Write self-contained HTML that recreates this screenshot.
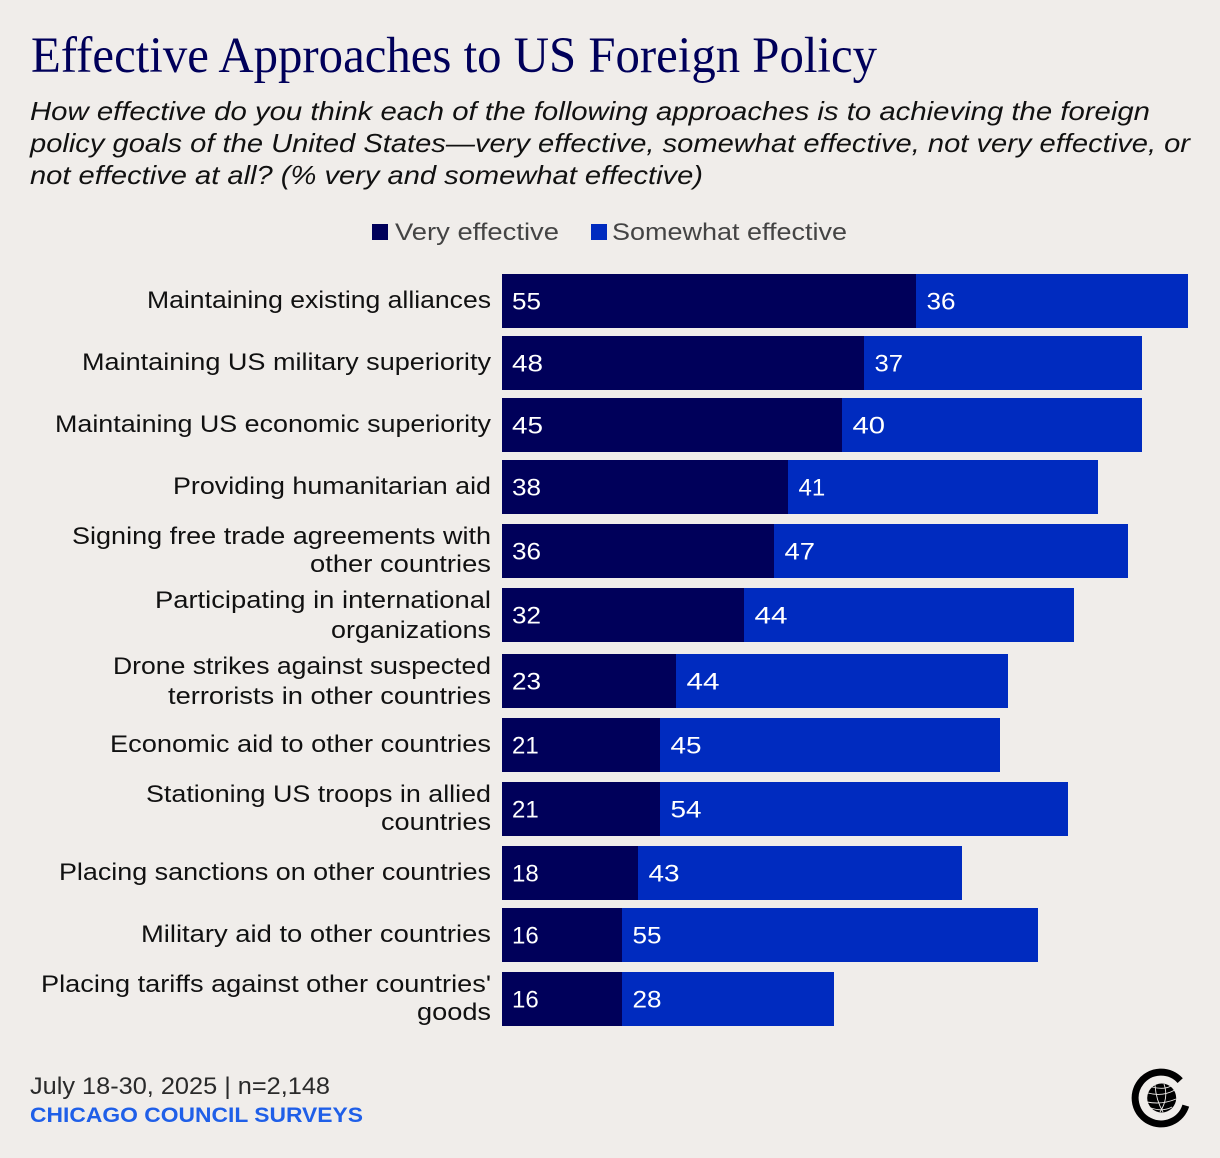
<!DOCTYPE html>
<html lang="en">
<head>
<meta charset="utf-8">
<title>Effective Approaches to US Foreign Policy</title>
<style>
html,body{margin:0;padding:0;background:#f0edea;}
body{width:1220px;height:1158px;overflow:hidden;}
svg{display:block;}
text{font-family:"Liberation Sans",sans-serif;}
</style>
</head>
<body>
<svg id="chart" xmlns="http://www.w3.org/2000/svg" width="1220" height="1158" viewBox="0 0 1220 1158">
  <rect width="1220" height="1158" fill="#f0edea"/>
  <text x="31" y="72" style="font-family:'Liberation Serif',serif" font-size="51" fill="#00005a" textLength="846" lengthAdjust="spacingAndGlyphs">Effective Approaches to US Foreign Policy</text>
  <g font-size="26" font-style="italic" fill="#111">
    <text x="30" y="120" textLength="1120" lengthAdjust="spacingAndGlyphs">How effective do you think each of the following approaches is to achieving the foreign</text>
    <text x="30" y="152" textLength="1160" lengthAdjust="spacingAndGlyphs">policy goals of the United States—very effective, somewhat effective, not very effective, or</text>
    <text x="30" y="184" textLength="673" lengthAdjust="spacingAndGlyphs">not effective at all? (% very and somewhat effective)</text>
  </g>
  <g font-size="24" fill="#444">
    <rect x="372" y="224" width="16" height="16" fill="#00005a"/>
    <text x="395" y="240" textLength="164" lengthAdjust="spacingAndGlyphs">Very effective</text>
    <rect x="591" y="224" width="16" height="16" fill="#002bbf"/>
    <text x="612" y="240" textLength="235" lengthAdjust="spacingAndGlyphs">Somewhat effective</text>
  </g>
  <g id="labels" font-size="24" fill="#111" text-anchor="end"></g>
  <g id="bars"></g>
  <g id="values" font-size="24" fill="#fff"></g>
  <g>
    <text x="30" y="1094" font-size="24" fill="#2a2a2a" textLength="300" lengthAdjust="spacingAndGlyphs">July 18-30, 2025 | n=2,148</text>
    <text x="30" y="1122" font-size="21" font-weight="bold" fill="#1f5fe8" textLength="333" lengthAdjust="spacingAndGlyphs">CHICAGO COUNCIL SURVEYS</text>
  </g>
  <g transform="translate(1161 1098)">
    <path d="M 19.2 -17.4 A 25.9 25.9 0 1 0 24.8 7.6" fill="none" stroke="#000" stroke-width="7"/>
    <circle cx="0.7" cy="0" r="14.5" fill="#000"/>
    <g fill="none" stroke="#f0edea" stroke-width="0.9">
      <path d="M -13 -5 Q 1 -1 14 -8"/>
      <path d="M -14 4 Q 1 7 15 1"/>
      <path d="M -9 -11 Q 3 -8 10 -12"/>
      <path d="M -6 -13 Q -5 2 2 14"/>
      <path d="M 3 -14 Q 8 0 -1 14"/>
      <path d="M -10 10 Q 2 14 11 9"/>
    </g>
  </g>
</svg>
<script>
const categories = [
  ["Maintaining existing alliances"],
  ["Maintaining US military superiority"],
  ["Maintaining US economic superiority"],
  ["Providing humanitarian aid"],
  ["Signing free trade agreements with", "other countries"],
  ["Participating in international", "organizations"],
  ["Drone strikes against suspected", "terrorists in other countries"],
  ["Economic aid to other countries"],
  ["Stationing US troops in allied", "countries"],
  ["Placing sanctions on other countries"],
  ["Military aid to other countries"],
  ["Placing tariffs against other countries'", "goods"]
];
const veryEffective = [55, 48, 45, 38, 36, 32, 23, 21, 21, 18, 16, 16];
const somewhatEffective = [36, 37, 40, 41, 47, 44, 44, 45, 54, 43, 55, 28];

const SVG_NS = "http://www.w3.org/2000/svg";
const DARK = "#00005a";
const BLUE = "#002bbf";
const X0 = 502;
const X_UNIT = 7.538;
const BAR_H = 54;
const ROW_ONE_LINE = 62;
const ROW_TWO_LINES = 65.5;
const FIRST_TOP = 274.25;
/* Typesetting only: rendered measure of each label line in the original wide face. */
const labelMeasures = [[344], [409], [436], [318], [419, 181], [336, 160], [378, 323], [381], [345, 110], [432], [350], [450, 74]];
/* Typesetting only: advance of each digit in the original face. */
const digitAdvance = { 0: 16, 2: 14.5, 3: 14.5, 4: 16.5, 5: 14.5, 6: 14.5, 7: 14, 8: 14.5, 9: 14.5 };

function snap(v) { return Math.round(v / 2) * 2; }
function snapDown(v) { return Math.floor(v / 2) * 2; }
function xScale(v) { return X0 + snap(v * X_UNIT); }
function rowHeight(i) { return categories[i].length > 1 ? ROW_TWO_LINES : ROW_ONE_LINE; }
function rowTop(i) {
  let t = FIRST_TOP;
  for (let k = 0; k < i; k++) t += (rowHeight(k) + rowHeight(k + 1)) / 2;
  return t;
}
function slug(s) { return s.toLowerCase().replace(/[^a-z0-9]+/g, "-").replace(/^-|-$/g, ""); }
function make(tag, attrs) {
  const el = document.createElementNS(SVG_NS, tag);
  for (const k in attrs) el.setAttribute(k, attrs[k]);
  return el;
}
/* Values holding a "1" keep natural width so the digits never collide. */
function fitValue(el, v) {
  const s = String(v);
  if (s.indexOf("1") >= 0) return;
  const w = s.split("").reduce(function (sum, d) { return sum + digitAdvance[d]; }, 0);
  el.setAttribute("textLength", w);
  el.setAttribute("lengthAdjust", "spacingAndGlyphs");
}

const barsG = document.getElementById("bars");
const valuesG = document.getElementById("values");
const labelsG = document.getElementById("labels");

categories.forEach(function (lines, i) {
  const t = rowTop(i);
  const y = snapDown(t);
  const key = slug(lines.join(" "));
  const xa = xScale(veryEffective[i]);
  const xb = xScale(veryEffective[i] + somewhatEffective[i]);

  const barA = make("rect", { x: X0, y: y, width: xa - X0, height: BAR_H, fill: DARK });
  
  
  barsG.appendChild(barA);

  const barB = make("rect", { x: xa, y: y, width: xb - xa, height: BAR_H, fill: BLUE });
  
  
  barsG.appendChild(barB);

  const valA = make("text", { x: X0 + 10, y: y + 35.5 });
  
  
  valA.textContent = veryEffective[i];
  fitValue(valA, veryEffective[i]);
  valuesG.appendChild(valA);

  const valB = make("text", { x: xa + 10.5, y: y + 35.5 });
  
  
  valB.textContent = somewhatEffective[i];
  fitValue(valB, somewhatEffective[i]);
  valuesG.appendChild(valB);

  lines.forEach(function (line, j) {
    const offset = lines.length > 1 ? 20 + j * 29 : 34;
    const lab = make("text", { x: 491, y: snapDown(t + offset), textLength: labelMeasures[i][j], lengthAdjust: "spacingAndGlyphs" });
    
    
    lab.textContent = line;
    labelsG.appendChild(lab);
  });
});
</script>
</body>
</html>
